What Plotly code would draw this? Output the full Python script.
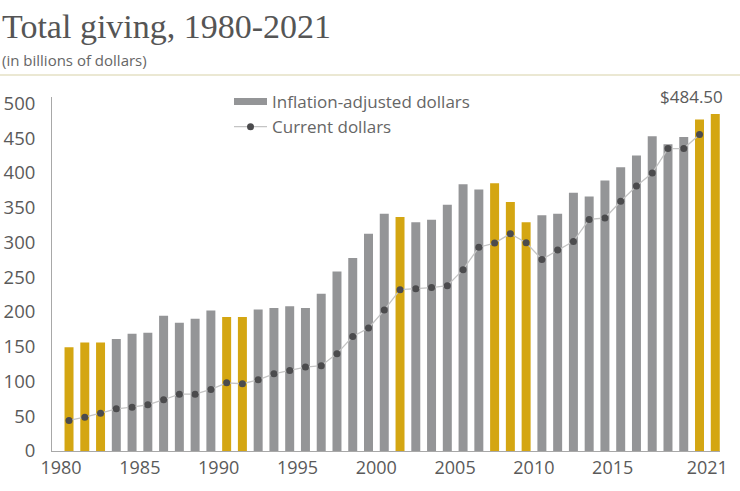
import plotly.graph_objects as go

years = list(range(1980, 2022))
inflation_adjusted = [149, 156, 156, 161, 168.5, 170, 194.5, 184.5, 190, 202,
                      192.5, 192.5, 203.5, 205.5, 208, 205.5, 226, 258, 277.5, 312.5,
                      341, 336.5, 329, 332.5, 354, 383.5, 376, 385, 358, 329,
                      339, 341, 371.5, 366, 389, 408, 425, 452.5, 441, 451.5,
                      476.5, 484.5]
current_dollars = [44, 48.6, 54.4, 60.7, 63, 66.5, 73.7, 81.7, 81.7, 88.5,
                   98, 96.7, 102.4, 111, 115.8, 120.6, 122.6, 140, 164.7, 176.7,
                   202.6, 232, 233.4, 235, 237.7, 260.7, 293, 299, 312.5, 299.5,
                   275.5, 289, 301.4, 333, 335, 359, 381, 399.7, 434.8, 434.8,
                   455, None]
highlight_years = [1980, 1981, 1982, 1990, 1991, 2001, 2007, 2008, 2009, 2020, 2021]
y_ticks = [0, 50, 100, 150, 200, 250, 300, 350, 400, 450, 500]
x_ticks = [1980, 1985, 1990, 1995, 2000, 2005, 2010, 2015, 2021]
last_label = "$484.50"

GRAY = "#949597"
GOLD = "#D4A612"
TEXT = "#5a5a5a"
FONT = "Open Sans"

# plot area in pixels (for paper-coordinate conversions of decorations)
L, R, T, B = 52, 20, 97, 40
PW, PH = 740 - L - R, 491 - T - B

gray_x = [y for y in years if y not in highlight_years]
gray_v = [v for y, v in zip(years, inflation_adjusted) if y not in highlight_years]
gold_x = [y for y in years if y in highlight_years]
gold_v = [v for y, v in zip(years, inflation_adjusted) if y in highlight_years]

fig = go.Figure()
fig.add_trace(go.Bar(x=gray_x, y=gray_v, width=0.57, marker=dict(color=GRAY, line=dict(width=0)),
                     showlegend=False, name="Inflation-adjusted dollars"))
fig.add_trace(go.Bar(x=gold_x, y=gold_v, width=0.57, marker=dict(color=GOLD, line=dict(width=0)),
                     showlegend=False, name="Inflation-adjusted dollars"))
# legend entries
fig.add_trace(go.Scatter(x=[None], y=[None], mode="lines", line=dict(color=GRAY, width=7),
                         name="Inflation-adjusted dollars"))
fig.add_trace(go.Scatter(x=years, y=current_dollars, mode="lines+markers",
                         line=dict(color="#c4c4c4", width=1.3),
                         marker=dict(color="#4b4b4d", size=7),
                         name="Current dollars", connectgaps=False))

fig.add_annotation(x=years[-1], y=inflation_adjusted[-1], text=last_label, showarrow=False,
                   xanchor="right", yanchor="bottom", xshift=10, yshift=4,
                   font=dict(family=FONT, size=17, color=TEXT))

# subtitle
fig.add_annotation(xref="paper", yref="paper", x=(0 - L) / PW, y=(491 - B - 60) / PH,
                   text="(in billions of dollars)", showarrow=False, xanchor="left", yanchor="middle",
                   font=dict(family=FONT, size=15, color="#666666"))
# rule under heading
fig.add_shape(type="line", xref="paper", yref="paper", x0=(0 - L) / PW, x1=(740 - L) / PW,
              y0=(491 - B - 75) / PH, y1=(491 - B - 75) / PH, line=dict(color="#e4e0c4", width=1.5))

fig.update_layout(
    width=740, height=491,
    margin=dict(l=L, r=R, t=T, b=B, autoexpand=False),
    paper_bgcolor="white", plot_bgcolor="white",
    barmode="overlay",
    title=dict(text="Total giving, 1980-2021", x=2 / 740, xanchor="left", xref="container",
               y=1 - 14 / 491, yanchor="top", yref="container",
               font=dict(family="Liberation Serif", size=34, color="#555555"),
               pad=dict(t=0, l=0, b=0, r=0)),
    legend=dict(x=(229 - L) / PW, y=(491 - B - 84) / PH, xref="paper", yref="paper",
                xanchor="left", yanchor="top", bgcolor="rgba(0,0,0,0)", itemwidth=33,
                font=dict(family=FONT, size=17, color="#666666"), tracegroupgap=0),
    xaxis=dict(range=[1978.92, 2021.3], tickmode="array", tickvals=x_ticks, automargin=False,
               ticktext=[str(t) for t in x_ticks], showgrid=False, zeroline=False,
               showline=True, linecolor="#a8a8a8", linewidth=1, ticks="", tickangle=0,
               tickfont=dict(family=FONT, size=18, color=TEXT), ticklabelshift=-8),
    yaxis=dict(range=[0, 509], tickmode="array", tickvals=y_ticks, automargin=False,
               showgrid=False, zeroline=False,
               showline=True, linecolor="#a8a8a8", linewidth=1, ticks="",
               tickfont=dict(family=FONT, size=18.5, color=TEXT), ticklabelstandoff=12),
    font=dict(family=FONT),
)

fig.write_html("out.html", config={"displayModeBar": False},
               post_script="document.body.style.margin='0';document.body.style.padding='0';")
